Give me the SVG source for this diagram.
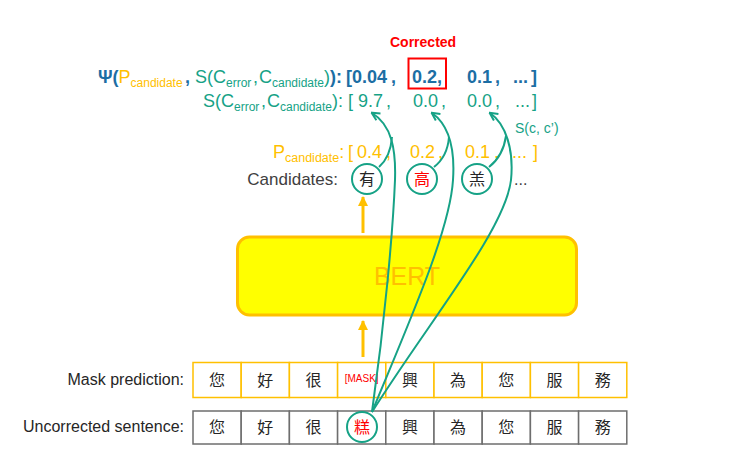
<svg xmlns="http://www.w3.org/2000/svg" width="736" height="456" viewBox="0 0 736 456">
<style>
text{font-family:"Liberation Sans",Arial,"Noto Sans CJK TC",sans-serif}
.cjk{font-family:"Noto Sans CJK TC","Noto Sans CJK SC",sans-serif;font-size:16px;text-anchor:middle;fill:#262626}
.blue{fill:#1C6EA4;font-weight:bold}
.teal{fill:#16A286}
.org{fill:#FFC000}
.sub{font-size:12px}
.lbl{font-size:16px;fill:#262626;text-anchor:end}
.mcell{fill:#fff;stroke:#FFC000;stroke-width:1.5}
.ucell{fill:#fff;stroke:#6E6E6E;stroke-width:1.5}
.circ{fill:#fff;stroke:#16A286;stroke-width:2}
.conn{fill:none;stroke:#16A286;stroke-width:2}
.oarr{stroke:#FFC000;stroke-width:3}
</style>
<defs>
<marker id="ta" viewBox="0 0 10 10" refX="8.5" refY="5" markerWidth="10" markerHeight="10" markerUnits="userSpaceOnUse" orient="auto"><path d="M1,1 L9,5 L1,9" fill="none" stroke="#16A286" stroke-width="2"/></marker>
<marker id="oa" viewBox="0 0 10 10" refX="9" refY="5" markerWidth="10" markerHeight="10" markerUnits="userSpaceOnUse" orient="auto"><path d="M0,0 L10,5 L0,10 Z" fill="#FFC000"/></marker>
</defs>

<g id="corrected-label">
<text x="390" y="47" font-size="14" font-weight="bold" fill="#FF0000">Corrected</text>
<rect x="408.5" y="58.5" width="37.5" height="30" fill="none" stroke="#FF0000" stroke-width="2"/>
</g>

<g id="psi-row" font-size="18">
<text x="98" y="83"><tspan class="blue">Ψ(</tspan><tspan class="org">P</tspan><tspan class="org sub" dy="4">candidate</tspan><tspan class="blue" x="185" y="83">,</tspan><tspan class="teal" x="195">S(C</tspan><tspan class="teal sub" dy="4">error</tspan><tspan class="teal" x="253" y="83">,</tspan><tspan class="teal" x="259">C</tspan><tspan class="teal sub" dy="4">candidate</tspan><tspan class="teal" dy="-4">)</tspan><tspan class="blue">):</tspan><tspan class="blue" x="346">[0.04</tspan><tspan class="blue" x="391">,</tspan><tspan class="blue" x="412">0.2,</tspan><tspan class="blue" x="467">0.1</tspan><tspan class="blue" x="495">,</tspan><tspan class="blue" x="513">...</tspan><tspan class="blue" x="531">]</tspan></text>
</g>

<g id="s-row" font-size="18">
<text x="203" y="107" class="teal"><tspan>S(C</tspan><tspan class="sub" dy="4">error</tspan><tspan x="261" y="107">,</tspan><tspan x="267">C</tspan><tspan class="sub" dy="4">candidate</tspan><tspan dy="-4">):</tspan><tspan x="348">[</tspan><tspan x="358">9.7</tspan><tspan x="386">,</tspan><tspan x="413">0.0</tspan><tspan x="441">,</tspan><tspan x="467">0.0</tspan><tspan x="495">,</tspan><tspan x="515">...</tspan><tspan x="532">]</tspan></text>
<text x="515" y="133" font-size="14" class="teal">S(c, c’)</text>
</g>

<g id="p-row" font-size="18">
<text x="273" y="158" class="org"><tspan>P</tspan><tspan class="sub" dy="4" style="font-size:12.5px">candidate</tspan><tspan dy="-4">:</tspan><tspan x="348">[</tspan><tspan x="357">0.4</tspan><tspan x="386">,</tspan><tspan x="410">0.2</tspan><tspan x="438">,</tspan><tspan x="465">0.1</tspan><tspan x="494">,</tspan><tspan x="512">...</tspan><tspan x="533">]</tspan></text>
</g>

<g id="candidates">
<text x="338" y="185" font-size="17" fill="#404040" text-anchor="end">Candidates:</text>
<circle class="circ" cx="367" cy="179" r="15"/>
<text class="cjk" x="367" y="185">有</text>
<circle class="circ" cx="422" cy="179" r="15"/>
<text class="cjk" x="422" y="185" style="fill:#FF0000">高</text>
<circle class="circ" cx="477" cy="179" r="15"/>
<text class="cjk" x="477" y="185">羔</text>
<text x="514" y="185" font-size="16" fill="#404040">...</text>
</g>

<g id="bert">
<rect x="237.5" y="237" width="339" height="78" rx="12" fill="#FFFF00" stroke="#FFC000" stroke-width="3"/>
<text x="407" y="285" font-size="25" fill="#FFC000" text-anchor="middle">BERT</text>
</g>

<g id="mask-row">
<text class="lbl" x="184" y="385">Mask prediction:</text>
<rect class="mcell" x="193" y="362.5" width="48.2" height="35"/>
<rect class="mcell" x="241.2" y="362.5" width="48.2" height="35"/>
<rect class="mcell" x="289.4" y="362.5" width="48.2" height="35"/>
<rect class="mcell" x="337.6" y="362.5" width="48.2" height="35"/>
<rect class="mcell" x="385.8" y="362.5" width="48.2" height="35"/>
<rect class="mcell" x="434" y="362.5" width="48.2" height="35"/>
<rect class="mcell" x="482.2" y="362.5" width="48.2" height="35"/>
<rect class="mcell" x="530.4" y="362.5" width="48.2" height="35"/>
<rect class="mcell" x="578.6" y="362.5" width="48.2" height="35"/>
<text class="cjk" x="217.1" y="385.5">您</text>
<text class="cjk" x="265.3" y="385.5">好</text>
<text class="cjk" x="313.5" y="385.5">很</text>
<text x="361.7" y="382" font-size="10" fill="#FF0000" text-anchor="middle">[MASK]</text>
<text class="cjk" x="409.9" y="385.5">興</text>
<text class="cjk" x="458.1" y="385.5">為</text>
<text class="cjk" x="506.3" y="385.5">您</text>
<text class="cjk" x="554.5" y="385.5">服</text>
<text class="cjk" x="602.7" y="385.5">務</text>
</g>

<g id="uncorrected-row">
<text class="lbl" x="184" y="432">Uncorrected sentence:</text>
<rect class="ucell" x="193" y="411" width="48.2" height="33"/>
<rect class="ucell" x="241.2" y="411" width="48.2" height="33"/>
<rect class="ucell" x="289.4" y="411" width="48.2" height="33"/>
<rect class="ucell" x="337.6" y="411" width="48.2" height="33"/>
<rect class="ucell" x="385.8" y="411" width="48.2" height="33"/>
<rect class="ucell" x="434" y="411" width="48.2" height="33"/>
<rect class="ucell" x="482.2" y="411" width="48.2" height="33"/>
<rect class="ucell" x="530.4" y="411" width="48.2" height="33"/>
<rect class="ucell" x="578.6" y="411" width="48.2" height="33"/>
<text class="cjk" x="217.1" y="433">您</text>
<text class="cjk" x="265.3" y="433">好</text>
<text class="cjk" x="313.5" y="433">很</text>
<circle class="circ" cx="362" cy="427" r="15"/>
<text class="cjk" x="362" y="433" style="fill:#FF0000">糕</text>
<text class="cjk" x="409.9" y="433">興</text>
<text class="cjk" x="458.1" y="433">為</text>
<text class="cjk" x="506.3" y="433">您</text>
<text class="cjk" x="554.5" y="433">服</text>
<text class="cjk" x="602.7" y="433">務</text>
</g>

<g id="connectors">
<line class="oarr" x1="363" y1="357" x2="363" y2="321" marker-end="url(#oa)"/>
<line class="oarr" x1="363" y1="233" x2="363" y2="197" marker-end="url(#oa)"/>
<path class="conn" d="M372 412 C385 320 393 230 395 180 C396 150 392 125 372 113" marker-end="url(#ta)"/>
<path class="conn" d="M372 412 C410 320 450 230 453 180 C455 150 449 125 432 113" marker-end="url(#ta)"/>
<path class="conn" d="M372 412 C430 320 505 230 511 180 C514 150 506 124 490 113" marker-end="url(#ta)"/>
<path class="conn" d="M379 167 C387 160 391 150 392 137"/>
<path class="conn" d="M434 167 C443 160 448 150 449 137"/>
<path class="conn" d="M489 167 C498 160 504 150 506 136"/>
</g>
</svg>
